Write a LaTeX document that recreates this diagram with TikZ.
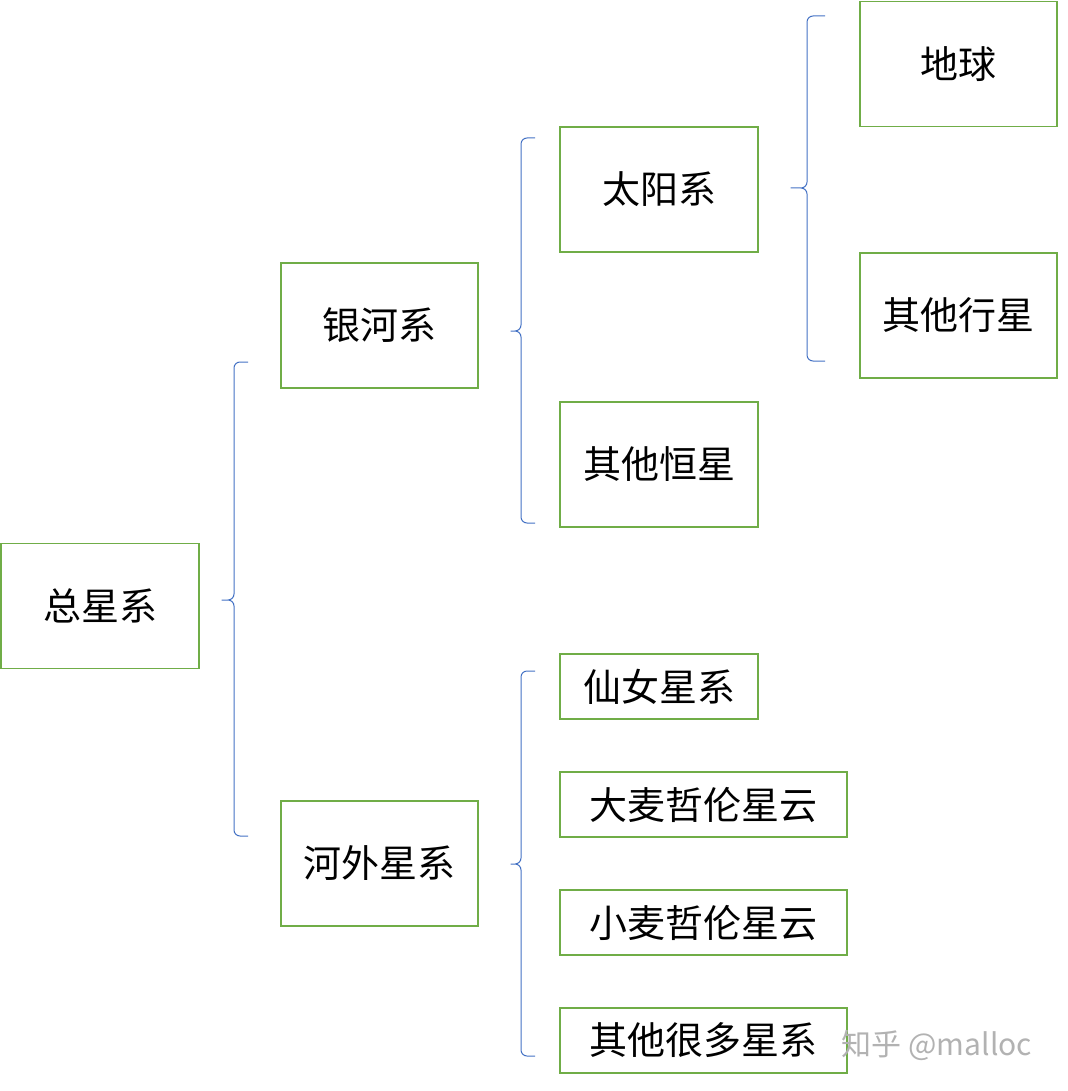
\documentclass[tikz,border=0pt]{standalone}
\usepackage{fontspec}
\setmainfont{Noto Sans CJK SC}
\begin{document}
\begin{tikzpicture}[x=1pt,y=-1pt,
	box/.style={draw=boxgreen,line width=1.6pt,inner sep=0pt,minimum height=125pt,font=\fontsize{38}{42}\selectfont},
	lowbox/.style={box,minimum height=65pt},
	brace/.style={draw=braceblue,line width=1pt,rounded corners=6pt}]
	\definecolor{boxgreen}{HTML}{70AD47}
	\definecolor{braceblue}{HTML}{4472C4}
	\useasboundingbox (0,0) rectangle (1067,1091);
	
	\node[box,minimum width=198pt] (all) at (100, 606)     {总星系};
	\node[box,minimum width=197pt] (milky) at (379.5, 325.5)     {银河系};
	\node[box,minimum width=197pt] (extra) at (379.5, 863.5)     {河外星系};
	\node[box,minimum width=198pt] (solar) at (659, 189.5)     {太阳系};
	\node[box,minimum width=198pt] (stars) at (659, 464.5)     {其他恒星};
	\node[box,minimum width=197pt] (earth) at (958.5, 64)     {地球};
	\node[box,minimum width=197pt] (planets) at (958.5, 315.5)     {其他行星};
	\node[lowbox,minimum width=198pt] (andro) at (659, 686.5)     {仙女星系};
	\node[lowbox,minimum width=287pt] (lmc) at (703.5, 804.5)     {大麦哲伦星云};
	\node[lowbox,minimum width=287pt] (smc) at (703.5, 922.5)     {小麦哲伦星云};
	\node[lowbox,minimum width=287pt] (others) at (703.5, 1040.5)     {其他很多星系};
	\node[text=gray!60,font=\fontsize{30}{34}\selectfont] (mark) at (937, 1045) {知乎 @malloc};
	
	\draw[brace] (248,362) -- (234,362) -- (234,600) -- (218,600) -- (234,600) -- (234,836) -- (248,836);
	\draw[brace] (535,138) -- (521,138) -- (521,331) -- (507,331) -- (521,331) -- (521,523) -- (535,523);
	\draw[brace] (535,671) -- (521,671) -- (521,864) -- (507,864) -- (521,864) -- (521,1056) -- (535,1056);
	\draw[brace] (825,16) -- (807,16) -- (807,188) -- (787,188) -- (807,188) -- (807,361) -- (825,361);
	
\end{tikzpicture}
\end{document}
